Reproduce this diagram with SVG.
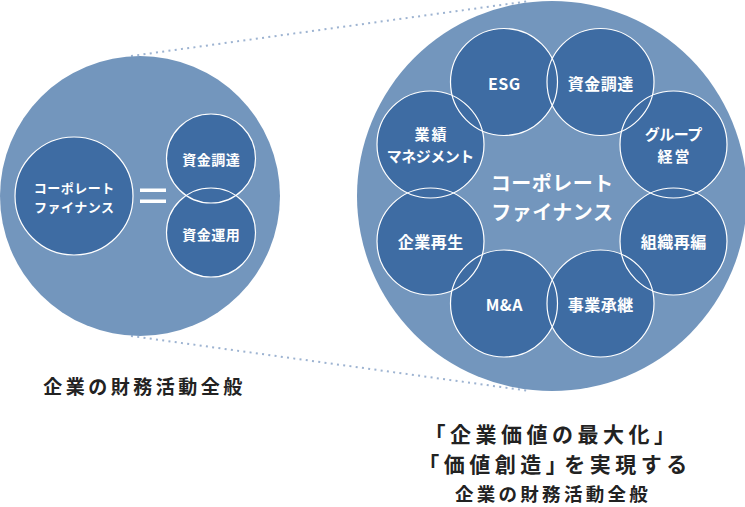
<svg xmlns="http://www.w3.org/2000/svg" width="745" height="507" viewBox="0 0 745 507">
<style>
.big{fill:#7396bd}
.node{fill:#3e6ca3}
.ring{fill:none;stroke:#fff;stroke-width:1.2}
.dot{stroke:#9db3d1;stroke-width:2;stroke-dasharray:2 4.3;fill:none}
text{font-family:"Noto Sans CJK JP","Noto Sans",sans-serif;font-weight:700;text-anchor:middle}
.w{fill:#fff}
.k{fill:#222}
</style>
<rect width="745" height="507" fill="#fff"/>
<g id="connectors">
<line class="dot" x1="131" y1="56" x2="530" y2="1"/>
<line class="dot" x1="131" y1="336" x2="530" y2="391"/>
</g>
<g id="scope-left"><circle class="big" cx="140" cy="196" r="140"/></g>
<g id="scope-right"><circle class="big" cx="552" cy="196" r="195"/></g>
<g id="cf-left"><circle class="node" cx="74" cy="196" r="59"/>
<text class="w" font-size="13" letter-spacing="0.5" x="74.3" y="193">コーポレート</text>
<text class="w" font-size="13" letter-spacing="0.5" x="74.3" y="212">ファイナンス</text></g>
<g id="equals"><rect x="140" y="188.5" width="26" height="3.5" fill="#fff"/><rect x="140" y="199.5" width="26" height="3.5" fill="#fff"/></g>
<g id="fund-raise-left"><circle class="node" cx="211" cy="158.5" r="44.5"/></g>
<g id="fund-manage-left"><circle class="node" cx="211" cy="232.5" r="44.5"/></g>
<g id="esg"><circle class="node" cx="504" cy="82" r="53.5"/></g>
<g id="fund-raise"><circle class="node" cx="600.5" cy="82" r="53.5"/></g>
<g id="group-mgmt"><circle class="node" cx="673.5" cy="144.5" r="53.5"/></g>
<g id="reorg"><circle class="node" cx="673.5" cy="241.5" r="53.5"/></g>
<g id="succession"><circle class="node" cx="600.5" cy="303.5" r="53.5"/></g>
<g id="ma"><circle class="node" cx="504" cy="303.5" r="53.5"/></g>
<g id="revival"><circle class="node" cx="430.5" cy="241.5" r="53.5"/></g>
<g id="perf-mgmt"><circle class="node" cx="430.5" cy="144.5" r="53.5"/></g>
<g id="outlines">
<circle class="ring" cx="74" cy="196" r="59"/>
<circle class="ring" cx="211" cy="158.5" r="44.5"/>
<circle class="ring" cx="211" cy="232.5" r="44.5"/>
<circle class="ring" cx="504" cy="82" r="53.5"/>
<circle class="ring" cx="600.5" cy="82" r="53.5"/>
<circle class="ring" cx="673.5" cy="144.5" r="53.5"/>
<circle class="ring" cx="673.5" cy="241.5" r="53.5"/>
<circle class="ring" cx="600.5" cy="303.5" r="53.5"/>
<circle class="ring" cx="504" cy="303.5" r="53.5"/>
<circle class="ring" cx="430.5" cy="241.5" r="53.5"/>
<circle class="ring" cx="430.5" cy="144.5" r="53.5"/>
</g>
<g id="labels">
<text class="w" font-size="14" letter-spacing="0.5" x="211.3" y="165.3">資金調達</text>
<text class="w" font-size="14" letter-spacing="0.5" x="211.3" y="240.3">資金運用</text>
<text class="w" font-size="20" letter-spacing="0.5" x="552.3" y="190.5">コーポレート</text>
<text class="w" font-size="20" letter-spacing="0.5" x="552.3" y="219.5">ファイナンス</text>
<text class="w" font-size="16" letter-spacing="0.5" x="504.3" y="90">ESG</text>
<text class="w" font-size="16" letter-spacing="0.5" x="600.8" y="90">資金調達</text>
<text class="w" font-size="15" letter-spacing="-0.5" x="673.3" y="140">グループ</text>
<text class="w" font-size="15" letter-spacing="2" x="674.5" y="162">経営</text>
<text class="w" font-size="15" letter-spacing="2" x="431.5" y="140">業績</text>
<text class="w" font-size="15" letter-spacing="-0.5" x="430.3" y="162">マネジメント</text>
<text class="w" font-size="16" letter-spacing="0.5" x="673.8" y="248">組織再編</text>
<text class="w" font-size="16" letter-spacing="0.5" x="430.8" y="248">企業再生</text>
<text class="w" font-size="16" letter-spacing="0.5" x="504.3" y="311">M&amp;A</text>
<text class="w" font-size="16" letter-spacing="0.5" x="600.8" y="311">事業承継</text>
<text class="k" font-size="19" letter-spacing="3.5" x="144.5" y="394">企業の財務活動全般</text>
<text class="k" font-size="21" letter-spacing="4.5" x="552" y="442">「企業価値の最大化」</text>
<text class="k" font-size="21" letter-spacing="4.5" x="555" y="471.5">「価値創造」<tspan dx="-7">を実現する</tspan></text>
<text class="k" font-size="18.5" letter-spacing="3.3" x="553" y="501">企業の財務活動全般</text>
</g>
</svg>
